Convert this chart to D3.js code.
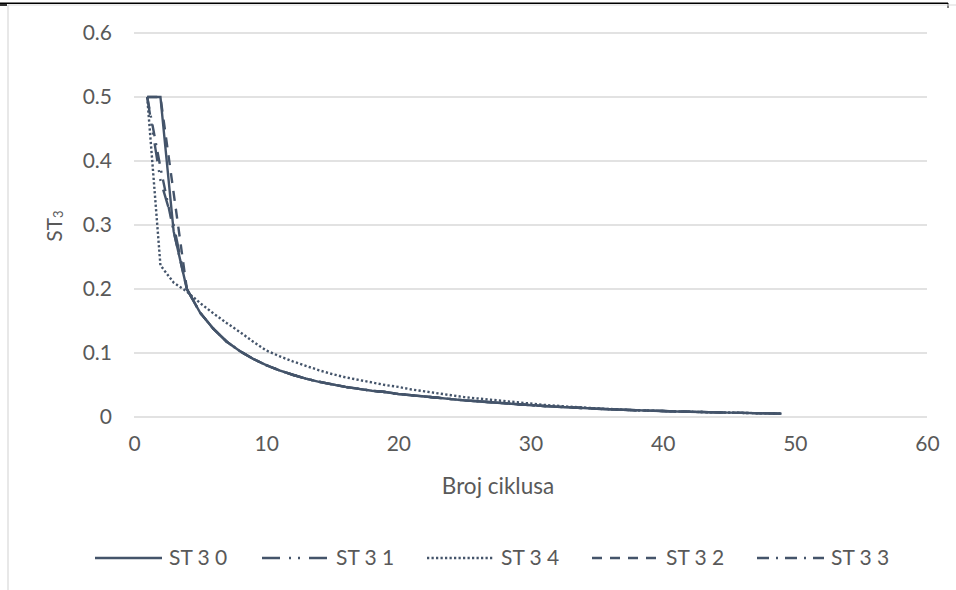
<!DOCTYPE html>
<html><head><meta charset="utf-8">
<script src="https://cdn.jsdelivr.net/npm/d3@7"></script>
<style>
html,body{margin:0;padding:0;background:#fff;}
svg{display:block;font-family:Lato,"Liberation Sans",sans-serif;}
</style></head>
<body>
<svg id="chart" width="956" height="590"></svg>
<script>
const cycles = [1,2,3,4,5,6,7,8,9,10,11,12,13,14,15,16,17,18,19,20,21,22,23,24,25,26,27,28,29,30,31,32,33,34,35,36,37,38,39,40,41,42,43,44,45,46,47,48,49];
const st30 = [0.5,0.5,0.29,0.2,0.163,0.138,0.118,0.103,0.091,0.081,0.073,0.066,0.060,0.055,0.051,0.047,0.044,0.041,0.039,0.036,0.034,0.032,0.030,0.028,0.026,0.0245,0.023,0.0215,0.020,0.0185,0.0172,0.016,0.015,0.014,0.013,0.012,0.0113,0.0106,0.0099,0.0093,0.0087,0.0082,0.0077,0.0072,0.0068,0.0064,0.006,0.0056,0.0053];
const st31 = [0.5,0.37,0.30,0.2,0.163,0.138,0.118,0.103,0.091,0.081,0.073,0.066,0.060,0.055,0.051,0.047,0.044,0.041,0.039,0.036,0.034,0.032,0.030,0.028,0.026,0.0245,0.023,0.0215,0.020,0.0185,0.0172,0.016,0.015,0.014,0.013,0.012,0.0113,0.0106,0.0099,0.0093,0.0087,0.0082,0.0077,0.0072,0.0068,0.0064,0.006,0.0056,0.0053];
const st34 = [0.5,0.237,0.21,0.196,0.178,0.162,0.147,0.133,0.118,0.104,0.095,0.087,0.080,0.073,0.067,0.062,0.058,0.054,0.050,0.047,0.043,0.040,0.037,0.034,0.031,0.029,0.027,0.025,0.023,0.021,0.019,0.0175,0.016,0.0148,0.0136,0.0125,0.0115,0.0106,0.0099,0.0093,0.0087,0.0082,0.0077,0.0072,0.0068,0.0064,0.006,0.0056,0.0053];
const st32 = [0.5,0.5,0.35,0.2,0.163,0.138,0.118,0.103,0.091,0.081,0.073,0.066,0.060,0.055,0.051,0.047,0.044,0.041,0.039,0.036,0.034,0.032,0.030,0.028,0.026,0.0245,0.023,0.0215,0.020,0.0185,0.0172,0.016,0.015,0.014,0.013,0.012,0.0113,0.0106,0.0099,0.0093,0.0087,0.0082,0.0077,0.0072,0.0068,0.0064,0.006,0.0056,0.0053];
const st33 = [0.5,0.39,0.29,0.2,0.163,0.138,0.118,0.103,0.091,0.081,0.073,0.066,0.060,0.055,0.051,0.047,0.044,0.041,0.039,0.036,0.034,0.032,0.030,0.028,0.026,0.0245,0.023,0.0215,0.020,0.0185,0.0172,0.016,0.015,0.014,0.013,0.012,0.0113,0.0106,0.0099,0.0093,0.0087,0.0082,0.0077,0.0072,0.0068,0.0064,0.006,0.0056,0.0053];
const seriesNames = ["ST 3 0","ST 3 1","ST 3 4","ST 3 2","ST 3 3"];
const xTicks = [0,10,20,30,40,50,60];
const yTicks = [0,0.1,0.2,0.3,0.4,0.5,0.6];
const xTitle = "Broj ciklusa";

const series = [st30, st31, st34, st32, st33];
const dashes = [null, "18,9,2,7,2,9", "2.25,2.25", "10,8", "12,7,2,7"];
const lineColor = "#44546A";
const textColor = "#595959";
const gridColor = "#d9d9d9";

const svg = d3.select("#chart");
const x = d3.scaleLinear().domain([0,60]).range([134,927]);
const y = d3.scaleLinear().domain([0,0.6]).range([417,33]);

// frame
svg.append("line").attr("x1",0).attr("x2",948).attr("y1",3.3).attr("y2",3.3).attr("stroke","#000").attr("stroke-width",1.4);
svg.append("line").attr("x1",0).attr("x2",7).attr("y1",5).attr("y2",5).attr("stroke","#000").attr("stroke-width",1.6);
svg.append("line").attr("x1",948).attr("x2",948).attr("y1",3).attr("y2",8).attr("stroke","#000").attr("stroke-width",1);
svg.append("line").attr("x1",8).attr("x2",956).attr("y1",5).attr("y2",5).attr("stroke",gridColor).attr("stroke-width",1);
svg.append("line").attr("x1",8).attr("x2",8).attr("y1",5).attr("y2",590).attr("stroke",gridColor).attr("stroke-width",1.2);

// gridlines
svg.append("g").selectAll("line").data(yTicks).join("line")
  .attr("x1",x(0)).attr("x2",x(60))
  .attr("y1",d=>y(d)).attr("y2",d=>y(d))
  .attr("stroke",gridColor).attr("stroke-width",1.4);

// y axis labels
const yAxis = d3.axisLeft(y).tickValues(yTicks).tickSize(0).tickPadding(0).tickFormat(d=>d===0?"0":d3.format(".1f")(d));
const gy = svg.append("g").attr("transform","translate(112,0)").call(yAxis);
gy.select(".domain").remove();
gy.selectAll("text").attr("fill",textColor).style("font-size","21px").style("font-family","Lato");

// x axis labels
const xAxis = d3.axisBottom(x).tickValues(xTicks).tickSize(0).tickPadding(0).tickFormat(d3.format("d"));
const gx = svg.append("g").attr("transform","translate(0,436)").call(xAxis);
gx.select(".domain").remove();
gx.selectAll("text").attr("fill",textColor).style("font-size","21px").style("font-family","Lato");

// axis titles
svg.append("text").attr("x",498).attr("y",494).attr("text-anchor","middle")
  .attr("fill",textColor).style("font-size","22.5px").text(xTitle);
const yt = svg.append("text").attr("transform","translate(62,226) rotate(-90)").attr("text-anchor","middle")
  .attr("fill",textColor).style("font-size","21px");
yt.append("tspan").text("ST");
yt.append("tspan").attr("dy",1).style("font-size","13px").text("3");

// lines
const line = d3.line().x((d,i)=>x(cycles[i])).y(d=>y(d));
series.forEach((s,k)=>{
  svg.append("path").datum(s).attr("d",line)
    .attr("fill","none").attr("stroke",lineColor).attr("stroke-width",2.4)
    .attr("stroke-linejoin","miter")
    .attr("stroke-dasharray",dashes[k]);
});

// legend
const legX = [95,262,427,592,757];
const lg = svg.append("g");
seriesNames.forEach((n,k)=>{
  lg.append("line").attr("x1",legX[k]).attr("x2",legX[k]+67).attr("y1",558).attr("y2",558)
    .attr("stroke",lineColor).attr("stroke-width",2.4).attr("stroke-dasharray",dashes[k]);
  lg.append("text").attr("x",legX[k]+74).attr("y",565).attr("fill",textColor)
    .style("font-size","21px").text(n);
});
</script>
</body></html>
